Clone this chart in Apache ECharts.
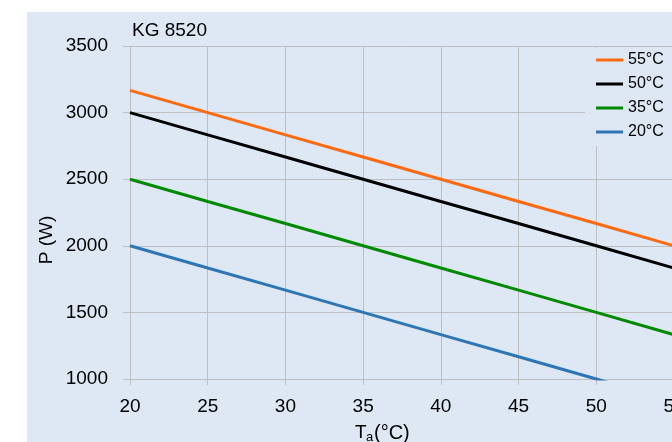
<!DOCTYPE html>
<html>
<head>
<meta charset="utf-8">
<script src="https://cdn.jsdelivr.net/npm/echarts@6/dist/echarts.min.js"></script>
<style>
html,body{margin:0;padding:0;background:#fff;}
#wrap{position:relative;width:672px;height:442px;overflow:hidden;background:#fff;}
#bg{position:absolute;left:27px;top:12px;width:645px;height:430px;background:#dde8f4;}
#chart{position:absolute;left:0;top:0;width:672px;height:442px;}
</style>
</head>
<body>
<div id="wrap"><div id="bg"></div><div id="chart"></div></div>
<script>
const titleText = 'KG 8520';
const xValues = [20, 25, 30, 35, 40, 45, 50, 55];
const seriesNames = ['55°C', '50°C', '35°C', '20°C'];
const s55 = [3167, 3000, 2833, 2667, 2500, 2333, 2167, 2000];
const s50 = [3000, 2833, 2667, 2500, 2333, 2167, 2000, 1833];
const s35 = [2500, 2333, 2167, 2000, 1833, 1667, 1500, 1333];
const s20 = [2000, 1833, 1667, 1500, 1333, 1167, 1000, 833];
const colors = ['#FF6A10', '#000000', '#008A00', '#2E75B6'];
const yName = 'P (W)';

const allData = [s55, s50, s35, s20];
const font = 'Liberation Sans, Arial, sans-serif';
const gridColor = '#bfbfbf';

const chart = echarts.init(document.getElementById('chart'));
chart.setOption({
  animation: false,
  backgroundColor: 'transparent',
  textStyle: { fontFamily: font },
  title: {
    text: titleText, left: 127, top: 16,
    textStyle: { fontFamily: font, fontSize: 19, fontWeight: 'normal', color: '#000' }
  },
  legend: {
    data: seriesNames,
    orient: 'vertical',
    left: 585, top: 48,
    padding: [4, 30, 6, 11],
    backgroundColor: '#dde8f4',
    icon: 'rect',
    itemWidth: 27, itemHeight: 3, itemGap: 8,
    textStyle: { fontFamily: font, fontSize: 16, lineHeight: 16, color: '#000' }
  },
  grid: { left: 130, right: -2, top: 46, bottom: 63, containLabel: false, outerBoundsMode: 'none' },
  xAxis: {
    type: 'value', min: 20, max: 55, interval: 5,
    axisLine: { show: true, lineStyle: { color: gridColor, width: 1 } },
    axisTick: { show: true, length: 6, lineStyle: { color: gridColor } },
    axisLabel: { margin: 18, fontSize: 19, color: '#000', fontFamily: font, showMaxLabel: true,
      formatter: v => String(v) },
    splitLine: { show: true, lineStyle: { color: gridColor, width: 1 } }
  },
  yAxis: {
    type: 'value', min: 1000, max: 3500, interval: 500,
    axisLine: { show: true, lineStyle: { color: gridColor, width: 1 } },
    axisTick: { show: true, length: 7, lineStyle: { color: gridColor } },
    axisLabel: { margin: 22, fontSize: 19, color: '#000', fontFamily: font,
      formatter: v => String(v) },
    splitLine: { show: true, lineStyle: { color: gridColor, width: 1 } }
  },
  graphic: [
    {
      type: 'text', x: 47, y: 240, rotation: Math.PI / 2,
      style: { text: yName, fontSize: 19, fontFamily: font, fill: '#000', align: 'center', verticalAlign: 'middle' }
    },
    {
      type: 'text', x: 355, y: 433,
      style: { text: 'T', fontSize: 19, fontFamily: font, fill: '#000', align: 'left', verticalAlign: 'middle' }
    },
    {
      type: 'text', x: 366, y: 437,
      style: { text: 'a', fontSize: 13, fontFamily: font, fill: '#000', align: 'left', verticalAlign: 'middle' }
    },
    {
      type: 'text', x: 374, y: 433,
      style: { text: '(°C)', fontSize: 20, fontFamily: font, fill: '#000', align: 'left', verticalAlign: 'middle' }
    }
  ],
  series: seriesNames.map((n, i) => ({
    name: n, type: 'line', clip: true,
    data: xValues.map((x, j) => [x, allData[i][j]]),
    showSymbol: false, symbol: 'none',
    lineStyle: { color: colors[i], width: 3 },
    itemStyle: { color: colors[i] },
    z: 3
  }))
});
</script>
</body>
</html>
